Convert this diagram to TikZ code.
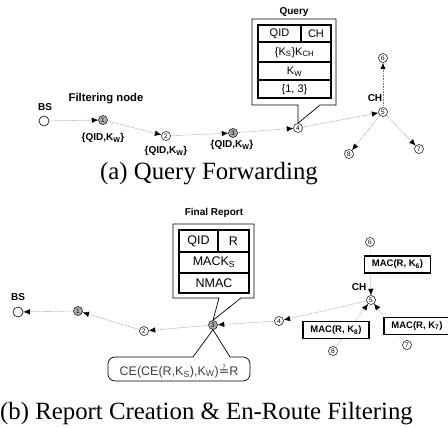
\documentclass[tikz,border=0pt]{standalone}
\usepackage{fontspec}
\setmainfont{Liberation Serif}
\setsansfont{Liberation Sans}
\newfontfamily\djvfont{DejaVu Sans}
\usetikzlibrary{arrows.meta}
\begin{document}
\begin{tikzpicture}[x=1pt,y=-1pt,
  nd/.style={circle,draw=black,line width=0.5pt,minimum size=9pt,inner sep=0pt,fill=white,
    font=\sffamily\fontsize{6.5}{6.5}\selectfont},
  gnd/.style={nd,fill=gray!65},
  bsnode/.style={circle,draw=black,line width=0.6pt,minimum size=10pt,inner sep=0pt,fill=white},
  lnk/.style={draw=gray,densely dotted,line width=0.6pt,-{Latex[length=6.5pt,width=5.5pt,color=black]}},
  lbl/.style={font=\sffamily\bfseries\fontsize{10}{10}\selectfont,inner sep=0pt},
  qlbl/.style={font=\sffamily\bfseries\fontsize{10}{10}\selectfont,inner sep=0pt},
  tbl/.style={font=\sffamily\fontsize{11}{11}\selectfont,inner sep=0pt},
  tblb/.style={font=\sffamily\fontsize{12.5}{12.5}\selectfont,inner sep=0pt},
  macbox/.style={draw=black,line width=1.6pt,fill=white,minimum width=66pt,minimum height=17pt,inner sep=0pt,
    font=\sffamily\bfseries\fontsize{9.5}{9.5}\selectfont},
  callout/.style={draw=black,line width=0.7pt,fill=white},
  innerbox/.style={draw=black,line width=1.8pt},
  rowrule/.style={draw=black,line width=1.1pt},
  captxt/.style={font=\fontsize{24.8}{26}\selectfont,inner sep=0pt,anchor=base west}
]
\useasboundingbox (0,0) rectangle (448,428);

% ---------------- (a) Query Forwarding ----------------
\node[bsnode] (A0) at (44,121) {};
\node[gnd] (A1) at (103,120) {1};
\node[nd] (A2) at (166,136) {2};
\node[gnd] (A3) at (233,133) {3};
\node[nd] (A4) at (298,128) {4};
\node[nd] (A5) at (383,112) {5};
\node[nd] (A6) at (383,58) {6};
\node[nd] (A7) at (419,149) {7};
\node[nd] (A8) at (349,154) {8};

\draw[lnk] (A0) -- (A1);
\draw[lnk] (A1) -- (A2);
\draw[lnk] (A2) -- (A3);
\draw[lnk] (A3) -- (A4);
\draw[lnk] (A4) -- (A5);
\draw[lnk] (A5) -- (A6);
\draw[lnk] (A5) -- (A7);
\draw[lnk] (A5) -- (A8);

\node[lbl] (bsa) at (45,107) {BS};
\node[lbl,font=\sffamily\bfseries\fontsize{11.3}{11.3}\selectfont] (filt) at (106,99) {Filtering node};
\node[qlbl] (qa1) at (103,138) {\{QID,K\textsubscript{W}\}};
\node[qlbl] (qa2) at (166,151) {\{QID,K\textsubscript{W}\}};
\node[qlbl] (qa3) at (232,145) {\{QID,K\textsubscript{W}\}};
\node[lbl] (cha) at (375,98) {CH};
\node[lbl] (qry) at (294,12) {Query};

% Query callout
\draw[callout] (252,19) -- (336,19) -- (336,105) -- (320,105) -- (A4.north) -- (298,105) -- (252,105) -- cycle;
\draw[innerbox] (258,25) rectangle (331,98);
\draw[rowrule] (258,42) -- (331,42);
\draw[rowrule] (258,62) -- (331,62);
\draw[rowrule] (258,80) -- (331,80);
\draw[rowrule] (301,25) -- (301,42);
\node[tbl] (qid) at (279.5,34) {QID};
\node[tbl] (qch) at (316,34) {CH};
\node[tbl] (qks) at (294.5,52.5) {\{K\textsubscript{S}\}K\textsubscript{CH}};
\node[tbl] (qkw) at (294.5,71.5) {K\textsubscript{W}};
\node[tbl] (q13) at (294.5,89.5) {\{1, 3\}};

\node[captxt] (capa) at (100,180) {(a) Query Forwarding};

% ---------------- (b) Report Creation ----------------
\node[bsnode] (B0) at (18,312) {};
\node[gnd] (B1) at (78,311) {1};
\node[nd] (B2) at (144,331) {2};
\node[gnd] (B3) at (213,325) {3};
\node[nd] (B4) at (279,321) {4};
\node[nd] (B5) at (371,300) {5};
\node[nd] (B6) at (370,242) {6};
\node[nd] (B7) at (407,345) {7};
\node[nd] (B8) at (333,351) {8};

\draw[lnk] (B6) -- (B5);
\draw[lnk] (B7) -- (B5);
\draw[lnk] (B8) -- (B5);
\draw[lnk] (B5) -- (B4);
\draw[lnk] (B4) -- (B3);
\draw[lnk] (B3) -- (B2);
\draw[lnk] (B2) -- (B1);
\draw[lnk] (B1) -- (B0);

\node[macbox] (m6) at (397.5,264.5) {MAC(R, K\textsubscript{6})};
\node[macbox] (m8) at (336,330) {MAC(R, K\textsubscript{8})};
\node[macbox] (m7) at (417,326) {MAC(R, K\textsubscript{7})};

\node[lbl] (bsb) at (18,297) {BS};
\node[lbl] (chb) at (359,287) {CH};
\node[lbl] (frep) at (214,213) {Final Report};

% Final report callout
\draw[callout] (173,224) -- (254,224) -- (254,298) -- (241,298) -- (B3.north) -- (219,298) -- (173,298) -- cycle;
\draw[innerbox] (179,230) rectangle (249,293);
\draw[rowrule] (179,252) -- (249,252);
\draw[rowrule] (179,273) -- (249,273);
\draw[rowrule] (218,230) -- (218,252);
\node[tblb] (fqid) at (198.5,241.5) {QID};
\node[tblb] (fr) at (233.5,241.5) {R};
\node[tblb] (fmac) at (214,262.5) {MACK\textsubscript{S}};
\node[tblb] (fnmac) at (214,283) {NMAC};

% CE callout
\draw[callout] (193,357) [rounded corners=7pt] -- (108,357) -- (108,381) -- (250,381) -- (250,357) [sharp corners] -- (230,357) -- (B3.south) -- cycle;
\node[font=\sffamily\fontsize{12.5}{12.5}\selectfont,text=black!75,inner sep=0pt] (ce) at (179,371)
  {CE(CE(R,K\textsubscript{S}),K\textsubscript{W}){\djvfont ≟}R};

\node[captxt] (capb) at (0,419) {(b) Report Creation \& En-Route Filtering};
\end{tikzpicture}
\end{document}
